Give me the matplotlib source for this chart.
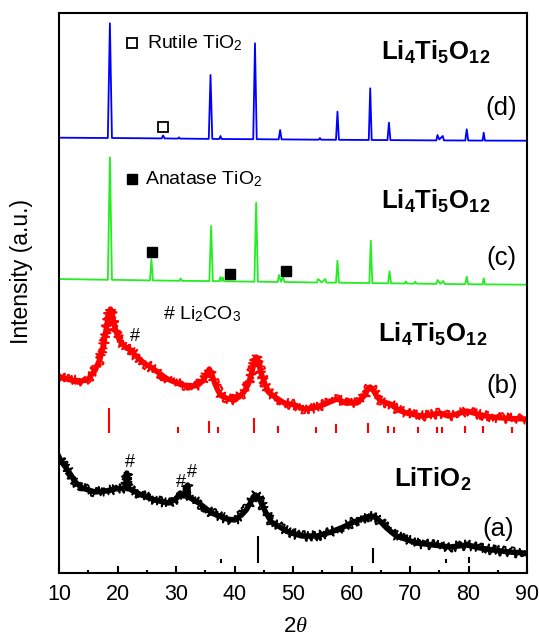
import matplotlib
matplotlib.use("Agg")
import matplotlib.pyplot as plt

plt.rcParams['font.family'] = ['Liberation Sans', 'DejaVu Sans']
plt.rcParams['mathtext.fontset'] = 'custom'
plt.rcParams['mathtext.rm'] = 'Liberation Sans'
plt.rcParams['mathtext.bf'] = 'Liberation Sans:bold'
plt.rcParams['mathtext.it'] = 'Liberation Serif:italic'

# ---------------- data (2theta, intensity in arbitrary stacked units) -------------
# (d) Li4Ti5O12 with rutile TiO2 - blue
d_x = [10, 18.35, 18.7, 19.05, 27.55, 27.8, 28.05, 30.3, 30.5, 30.7, 35.6, 35.9, 36.2,
       37.4, 37.6, 37.8, 43.2, 43.5, 43.8, 47.55, 47.8, 48.05, 54.4, 54.6, 54.8,
       57.35, 57.6, 57.85, 62.95, 63.2, 63.45, 66.15, 66.4, 66.65, 74.5, 74.7, 75.0,
       75.6, 75.8, 79.45, 79.7, 79.95, 82.4, 82.6, 82.8, 90]
d_y = [435.3, 435.0, 549.7, 435.0, 434.6, 437.5, 434.6, 434.4, 435.6, 434.4, 434.1, 498.0, 434.1,
       434.0, 437.0, 434.0, 433.8, 529.7, 433.8, 433.6, 443.0, 433.6, 433.3, 435.0, 433.3,
       433.2, 461.3, 433.2, 433.0, 484.7, 433.0, 432.9, 450.3, 432.9, 432.6, 438.0, 433.5,
       437.0, 432.6, 432.5, 443.7, 432.5, 432.4, 440.3, 432.4, 432.3]

# (c) Li4Ti5O12 with anatase TiO2 - green
c_x = [10, 18.35, 18.7, 19.05, 25.55, 25.8, 26.05, 30.6, 30.8, 31.0, 35.7, 36.0, 36.3,
       37.4, 37.6, 37.8, 38.0, 38.2, 43.4, 43.7, 44.0, 47.4, 47.6, 47.95, 48.3, 48.55,
       54.1, 54.3, 54.9, 55.5, 55.7, 57.35, 57.6, 57.85, 63.05, 63.3, 63.55, 66.25, 66.5, 66.75,
       69.1, 69.3, 69.5, 70.7, 70.9, 71.1, 74.5, 74.7, 75.2, 75.7, 75.9,
       79.45, 79.7, 79.95, 82.4, 82.6, 82.8, 90]
c_y = [294.0, 293.2, 415.7, 293.2, 292.6, 313.7, 292.6, 292.2, 294.5, 292.2, 291.9, 347.0, 291.9,
       291.8, 296.0, 292.0, 295.5, 291.7, 291.3, 370.3, 291.3, 291.0, 298.0, 291.2, 295.7, 291.0,
       290.5, 294.0, 290.5, 294.0, 290.4, 290.3, 312.3, 290.3, 289.9, 332.3, 289.9, 289.7, 301.7, 289.7,
       289.5, 291.5, 289.5, 289.4, 291.3, 289.4, 289.1, 293.0, 289.1, 292.0, 289.0,
       288.8, 296.3, 288.8, 288.6, 294.7, 288.6, 288.3]

# (b) Li4Ti5O12 (low temperature) - red
b_x = [10.0, 10.5, 12.0, 13.9, 15.0, 16.2, 17.0, 17.6, 18.1, 18.5, 18.8, 19.1, 19.5, 20.0,
       20.7, 21.5, 22.3, 23.0, 24.5, 26.4, 28.5, 31.0, 33.2, 34.0, 34.8, 35.3, 35.7, 36.1,
       36.6, 37.2, 37.8, 39.0, 40.1, 41.5, 42.3, 42.9, 43.4, 43.7, 44.1, 44.6, 45.2, 45.8,
       46.9, 48.5, 50.3, 51.8, 53.5, 55.5, 56.7, 57.5, 58.3, 59.0, 60.9, 61.5, 62.3, 62.8,
       63.2, 63.7, 64.3, 65.0, 66.6, 68.0, 69.4, 71.0, 72.2, 73.5, 75.1, 76.5, 78.0, 79.7,
       81.5, 83.7, 86.0, 89.4, 90.0]
b_y = [197, 195, 193, 192, 194, 203, 214, 228, 245, 259, 264, 258, 247, 237,
       230, 225, 223, 218, 210, 203, 194, 188, 187, 189, 194, 200, 204, 199,
       190, 182, 177, 174, 173, 180, 188, 199, 212, 216, 210, 199, 189, 181,
       176, 170, 168, 164, 165, 169, 172, 174, 172, 170, 170, 173, 178, 184,
       186, 183, 177, 172, 169, 163, 160, 158, 157, 158, 160, 157, 159, 162,
       159, 156, 155, 154, 154]

# (a) LiTiO2 - black
a_x = [10.0, 10.2, 11.6, 12.8, 13.9, 16.2, 18.0, 19.6, 21.0, 21.45, 21.6, 21.75, 24.1, 26.4,
       28.7, 30.0, 30.7, 31.3, 31.85, 32.0, 32.15, 33.9, 36.1, 38.7, 40.0, 41.2, 42.0, 42.7,
       43.2, 43.6, 44.0, 44.6, 45.3, 46.3, 49.2, 51.5, 54.1, 56.5, 58.6, 60.0, 61.5, 62.5,
       63.5, 64.3, 65.0, 66.0, 67.0, 67.7, 71.1, 74.0, 76.8, 79.7, 82.0, 84.2, 87.0, 89.4, 90.0]
a_y = [116, 113, 102, 91, 85, 81, 82, 84, 85, 86, 100, 85, 78, 73,
       70, 74, 80, 77, 78, 88, 76, 70, 60, 54, 53, 58, 63, 70,
       76, 78, 76, 70, 61, 51, 41, 37, 37, 41, 46, 50, 53.5, 56,
       57, 55, 51, 45, 40, 37, 30, 28, 26, 28, 25, 23, 21, 20, 19]

# reference lines
ref_b_pos = [18.5, 30.3, 35.6, 37.2, 43.3, 47.5, 53.9, 57.4, 62.9, 66.2, 67.3, 71.4, 74.6,
             75.4, 79.4, 82.4, 87.4]
ref_b_h = [25, 6, 12.7, 6.7, 15, 7, 6, 9, 10.7, 7, 6, 6, 6.7, 6.7, 7, 7, 6]
ref_b_base = 139.7
ref_a_pos = [37.7, 43.95, 63.6, 76.2, 80.1]
ref_a_h = [4, 27, 15, 4, 6]
ref_a_base = 9.7

anatase_x = [25.85, 39.2, 48.8]
anatase_y = [321.3, 299.0, 302.3]
rutile_x = [27.83]
rutile_y = [445.7]
hash_x = [22.9, 22.1, 30.85, 32.7]
hash_y = [236.3, 110.3, 90.3, 100.3]

phase_labels = [r'$\mathbf{Li_4Ti_5O_{12}}$', r'$\mathbf{Li_4Ti_5O_{12}}$',
                r'$\mathbf{Li_4Ti_5O_{12}}$', r'$\mathbf{LiTiO_2}$']
phase_x = [74.3, 74.3, 73.9, 73.9]
phase_y = [520.5, 371.3, 239.0, 94.0]
tag_labels = ['(d)', '(c)', '(b)', '(a)']
tag_x = [85.6, 85.7, 85.7, 85.0]
tag_y = [464.7, 314.7, 187.0, 44.0]
xticks = [10, 20, 30, 40, 50, 60, 70, 80, 90]

# ---------------- figure -------------
fig = plt.figure(figsize=(5.39, 6.39), dpi=100)
ax = fig.add_axes([59/539, 1-573/639, (527-59)/539, (573-13)/639])

ax.plot(d_x, d_y, color='#0000ff', lw=1.3)
ax.plot(c_x, c_y, color='#22ee22', lw=1.3)
for xs, ys, col in ((b_x, b_y, '#ff0000'), (a_x, a_y, '#000000')):
    ax.plot(xs, ys, color=col, lw=3.9, solid_joinstyle='round')
    ln, = ax.plot(xs, ys, color=col, lw=1.3, solid_joinstyle='round')
    ln.set_sketch_params(scale=5.0, length=1.2, randomness=1.5)

ax.vlines(ref_b_pos, ref_b_base, [ref_b_base + h for h in ref_b_h], color='#ff0000', lw=1.5)
ax.vlines(ref_a_pos, ref_a_base, [ref_a_base + h for h in ref_a_h], color='black', lw=1.5)

ax.plot(anatase_x, anatase_y, 's', color='black', ms=6.5)
ax.plot(rutile_x, rutile_y, 's', mfc='white', mec='black', mew=1.3, ms=6.5)
for hx, hy in zip(hash_x, hash_y):
    ax.text(hx, hy, '#', fontsize=13, ha='center', va='center')

# legends
ax.plot([22.45], [530.3], 's', mfc='white', mec='black', mew=1.3, ms=6.5)
ax.text(25.0, 530.0, r'Rutile TiO$_2$', fontsize=14, ha='left', va='center')
ax.plot([22.4], [393.7], 's', color='black', ms=6.5)
ax.text(24.7, 394.0, r'Anatase TiO$_2$', fontsize=14, ha='left', va='center')
ax.text(27.8, 259.0, r'# Li$_2$CO$_3$', fontsize=14, ha='left', va='center')

for lab, x, y in zip(phase_labels, phase_x, phase_y):
    ax.text(x, y, lab, fontsize=18.5, ha='center', va='center')
for lab, x, y in zip(tag_labels, tag_x, tag_y):
    ax.text(x, y, lab, fontsize=18.5, ha='center', va='center')

ax.set_xlim(10, 90)
ax.set_ylim(0, 560)
ax.set_xticks(xticks)
ax.set_xticks([15, 25, 35, 45, 55, 65, 75, 85], minor=True)
ax.set_yticks([])
ax.tick_params(axis='x', which='major', direction='in', length=5, width=1.5,
               labelsize=15.5, pad=8, top=False)
ax.tick_params(axis='x', which='minor', direction='in', length=2.5, width=1.5, top=False)
for s in ax.spines.values():
    s.set_linewidth(1.5)

fig.text(295.6/539, 1-626/639, r'2$\theta$', fontsize=16, ha='center', va='center')
fig.text(21.7/539, 1-271.7/639, 'Intensity (a.u.)', fontsize=16.5, rotation=90,
         ha='center', va='center')

fig.savefig('out.png', dpi=100)
